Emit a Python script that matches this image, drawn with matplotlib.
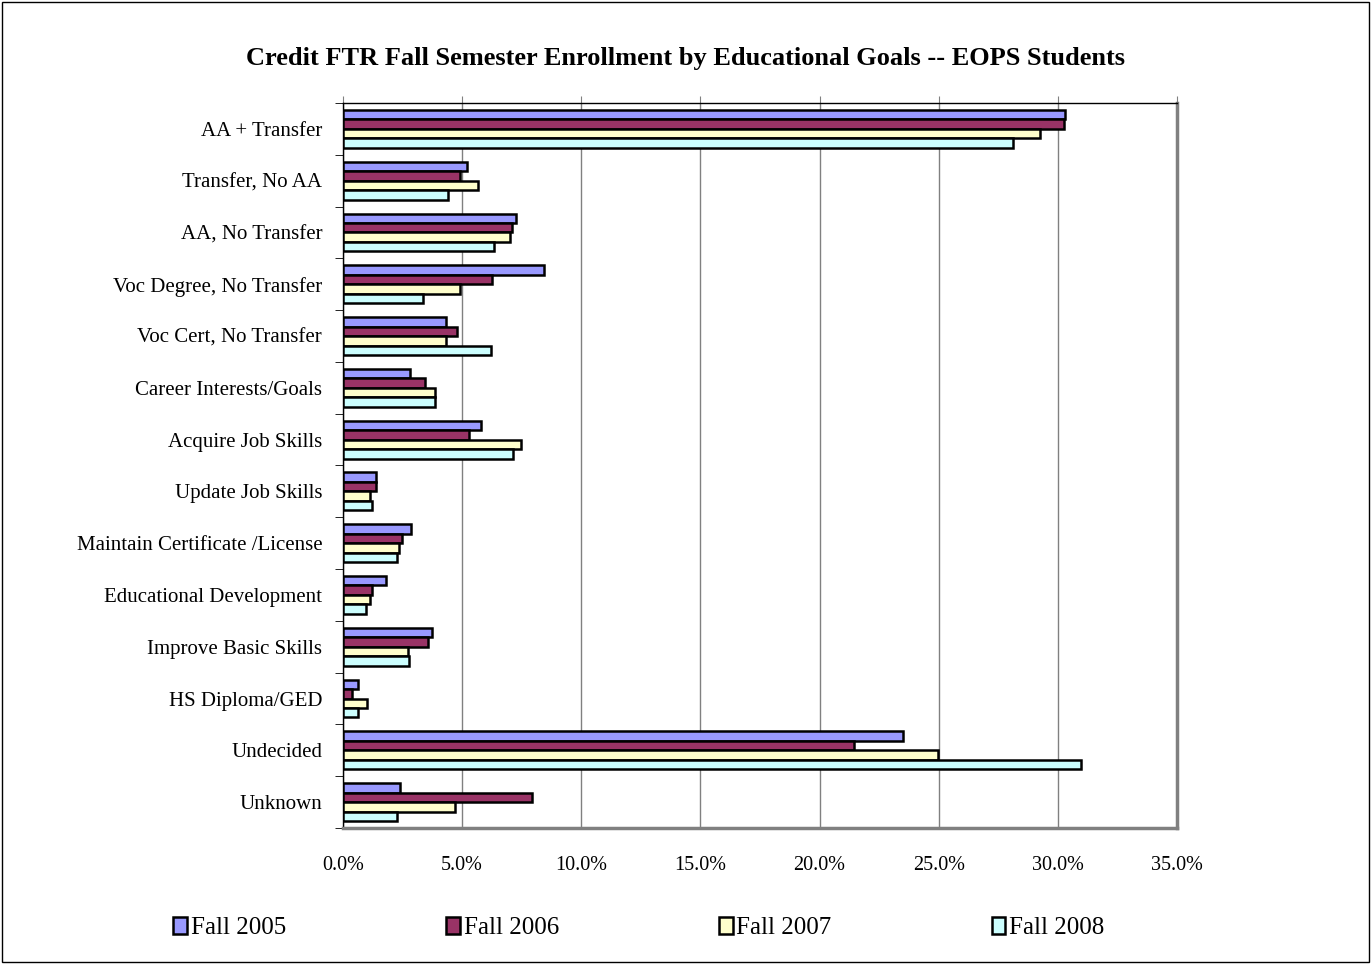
import numpy as np
import matplotlib.pyplot as plt
from matplotlib.patches import Rectangle
from matplotlib.ticker import FuncFormatter, MultipleLocator

plt.rcParams['font.family'] = ['Liberation Serif', 'DejaVu Serif']

# educational goal categories (top to bottom)
goals = ['AA + Transfer', 'Transfer, No AA', 'AA, No Transfer', 'Voc Degree, No Transfer',
         'Voc Cert, No Transfer', 'Career Interests/Goals', 'Acquire Job Skills',
         'Update Job Skills', 'Maintain Certificate /License', 'Educational Development',
         'Improve Basic Skills', 'HS Diploma/GED', 'Undecided', 'Unknown']

# percent of enrollment per semester
fall2005 = [30.3, 5.2, 7.26, 8.45, 4.31, 2.83, 5.8, 1.37, 2.84, 1.82, 3.73, 0.63, 23.52, 2.41]
fall2006 = [30.24, 4.89, 7.09, 6.25, 4.79, 3.45, 5.27, 1.37, 2.48, 1.23, 3.56, 0.39, 21.43, 7.95]
fall2007 = [29.27, 5.66, 7.02, 4.89, 4.31, 3.84, 7.48, 1.12, 2.34, 1.13, 2.72, 1.01, 24.99, 4.68]
fall2008 = [28.12, 4.42, 6.32, 3.35, 6.2, 3.84, 7.13, 1.22, 2.28, 0.98, 2.75, 0.63, 30.97, 2.28]

series = [('Fall 2005', fall2005, '#9999ff'),
          ('Fall 2006', fall2006, '#993366'),
          ('Fall 2007', fall2007, '#ffffcc'),
          ('Fall 2008', fall2008, '#ccffff')]

fig = plt.figure(figsize=(13.71, 9.64), dpi=100)
fig.patches.append(Rectangle((0.0015, 0.002), 0.997, 0.996, transform=fig.transFigure,
                             fill=False, edgecolor='black', linewidth=1))
ax = fig.add_axes([343 / 1371, 1 - 828 / 964, (1177 - 343) / 1371, (828 - 103) / 964])

n = len(goals)
y = np.arange(n)
h = 0.183
for i, (name, vals, col) in enumerate(series):
    ax.barh(y - 1.5 * h + i * h, vals, height=h, color=col, edgecolor='black',
            linewidth=1.8, label=name, zorder=3)

ax.set_xlim(0, 35)
ax.set_ylim(n - 0.5, -0.5)
ax.xaxis.set_major_locator(MultipleLocator(5))
ax.xaxis.set_major_formatter(FuncFormatter(lambda v, p: '%.1f%%' % v))
ax.grid(axis='x', color='#808080', linewidth=1, zorder=0)
ax.set_yticks(y)
ax.set_yticklabels(goals, fontsize=15)
ax.set_yticks(np.arange(n + 1) - 0.5, minor=True)
ax.tick_params(axis='y', which='major', length=0, pad=15)
ax.tick_params(axis='y', which='minor', length=6, direction='out', color='black')
ax.tick_params(axis='x', length=5, direction='out', labelsize=14.5, pad=15, color='#808080',
               top=True, bottom=False)

ax.spines['left'].set_color('black')
ax.spines['left'].set_linewidth(1)
ax.spines['top'].set_color('black')
ax.spines['top'].set_linewidth(1)
ax.spines['right'].set_color('#808080')
ax.spines['right'].set_linewidth(2.5)
ax.spines['bottom'].set_color('#808080')
ax.spines['bottom'].set_linewidth(2.5)

fig.text(0.5, 1 - 58 / 964, 'Credit FTR Fall Semester Enrollment by Educational Goals -- EOPS Students',
         ha='center', va='center', fontsize=19, fontweight='bold')

fig.legend(loc='center', bbox_to_anchor=(0.466, 1 - 928 / 964), ncol=4, frameon=False,
           fontsize=18, handlelength=0.55, handleheight=0.7, handletextpad=0.15,
           columnspacing=6.4)

fig.savefig('out.png', dpi=100)
